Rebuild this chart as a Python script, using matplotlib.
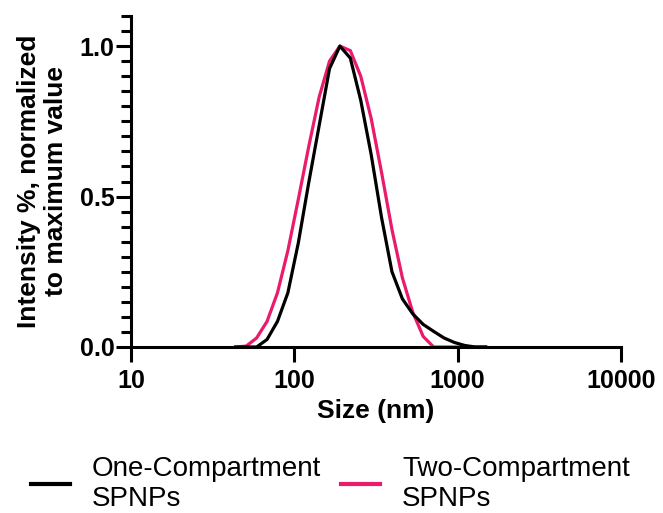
import matplotlib
matplotlib.use('Agg')
import matplotlib.pyplot as plt
from matplotlib.ticker import MultipleLocator, NullLocator, FixedLocator

plt.rcParams['font.family'] = ['Liberation Sans', 'DejaVu Sans']

# DLS size bins (nm)
size = [43.82, 50.75, 58.77, 68.06, 78.82, 91.28, 105.7, 122.4, 141.8, 164.2,
        190.1, 220.2, 255.0, 295.3, 342.0, 396.1, 458.7, 531.2, 615.1, 712.4,
        825.0, 955.4, 1106, 1281, 1484]
one_comp = [0, 0, 0, 0.025, 0.085, 0.18, 0.345, 0.545, 0.735, 0.925,
            1.0, 0.96, 0.82, 0.64, 0.43, 0.25, 0.16, 0.11, 0.075, 0.052,
            0.03, 0.015, 0.005, 0, 0]
two_comp = [0, 0.003, 0.03, 0.085, 0.18, 0.32, 0.49, 0.665, 0.83, 0.95,
            1.0, 0.985, 0.9, 0.76, 0.58, 0.39, 0.23, 0.115, 0.035, 0,
            0, 0, 0, 0, 0]
labels = ['One-Compartment\nSPNPs', 'Two-Compartment\nSPNPs']
colors = ['black', '#EA1A6C']

fig = plt.figure(figsize=(6.63, 5.13), dpi=100)
ax = fig.add_axes([131/663, 1-347/513, (621-131)/663, (347-16)/513])

ax.plot(size, one_comp, color=colors[0], lw=2.3, label=labels[0], zorder=3)
ax.plot(size, two_comp, color=colors[1], lw=2.3, label=labels[1], zorder=2)

ax.set_xscale('log')
ax.set_xlim(10, 10000)
ax.set_ylim(0, 1.1)
ax.xaxis.set_major_locator(FixedLocator([10, 100, 1000, 10000]))
ax.xaxis.set_minor_locator(NullLocator())
ax.set_xticklabels(['10', '100', '1000', '10000'])
ax.yaxis.set_major_locator(FixedLocator([0, 0.5, 1.0]))
ax.yaxis.set_minor_locator(MultipleLocator(0.05))
ax.set_yticklabels(['0.0', '0.5', '1.0'])

for s in ['top', 'right']:
    ax.spines[s].set_visible(False)
for s in ['left', 'bottom']:
    ax.spines[s].set_linewidth(2.2)

ax.tick_params(axis='both', which='major', length=11, width=2.2,
               labelsize=18, direction='out')
ax.tick_params(axis='y', which='minor', length=7, width=2.2, direction='out')
ax.tick_params(axis='y', which='major', pad=1)
ax.tick_params(axis='x', which='major', pad=5)
for t in ax.get_xticklabels() + ax.get_yticklabels():
    t.set_fontweight('bold')

ax.set_xlabel('Size (nm)', fontsize=19, fontweight='bold', labelpad=4)
ax.set_ylabel('Intensity %, normalized\nto maximum value', fontsize=19,
              fontweight='bold', labelpad=8, linespacing=1.2)

fig.legend(loc='lower left', bbox_to_anchor=(0.03, -0.02), ncol=2,
           frameon=False, fontsize=20, handlelength=1.4, handletextpad=0.8,
           columnspacing=0.7, borderaxespad=0)
for line in fig.legends[0].get_lines():
    line.set_linewidth(3)

fig.savefig('out.png', dpi=100)
